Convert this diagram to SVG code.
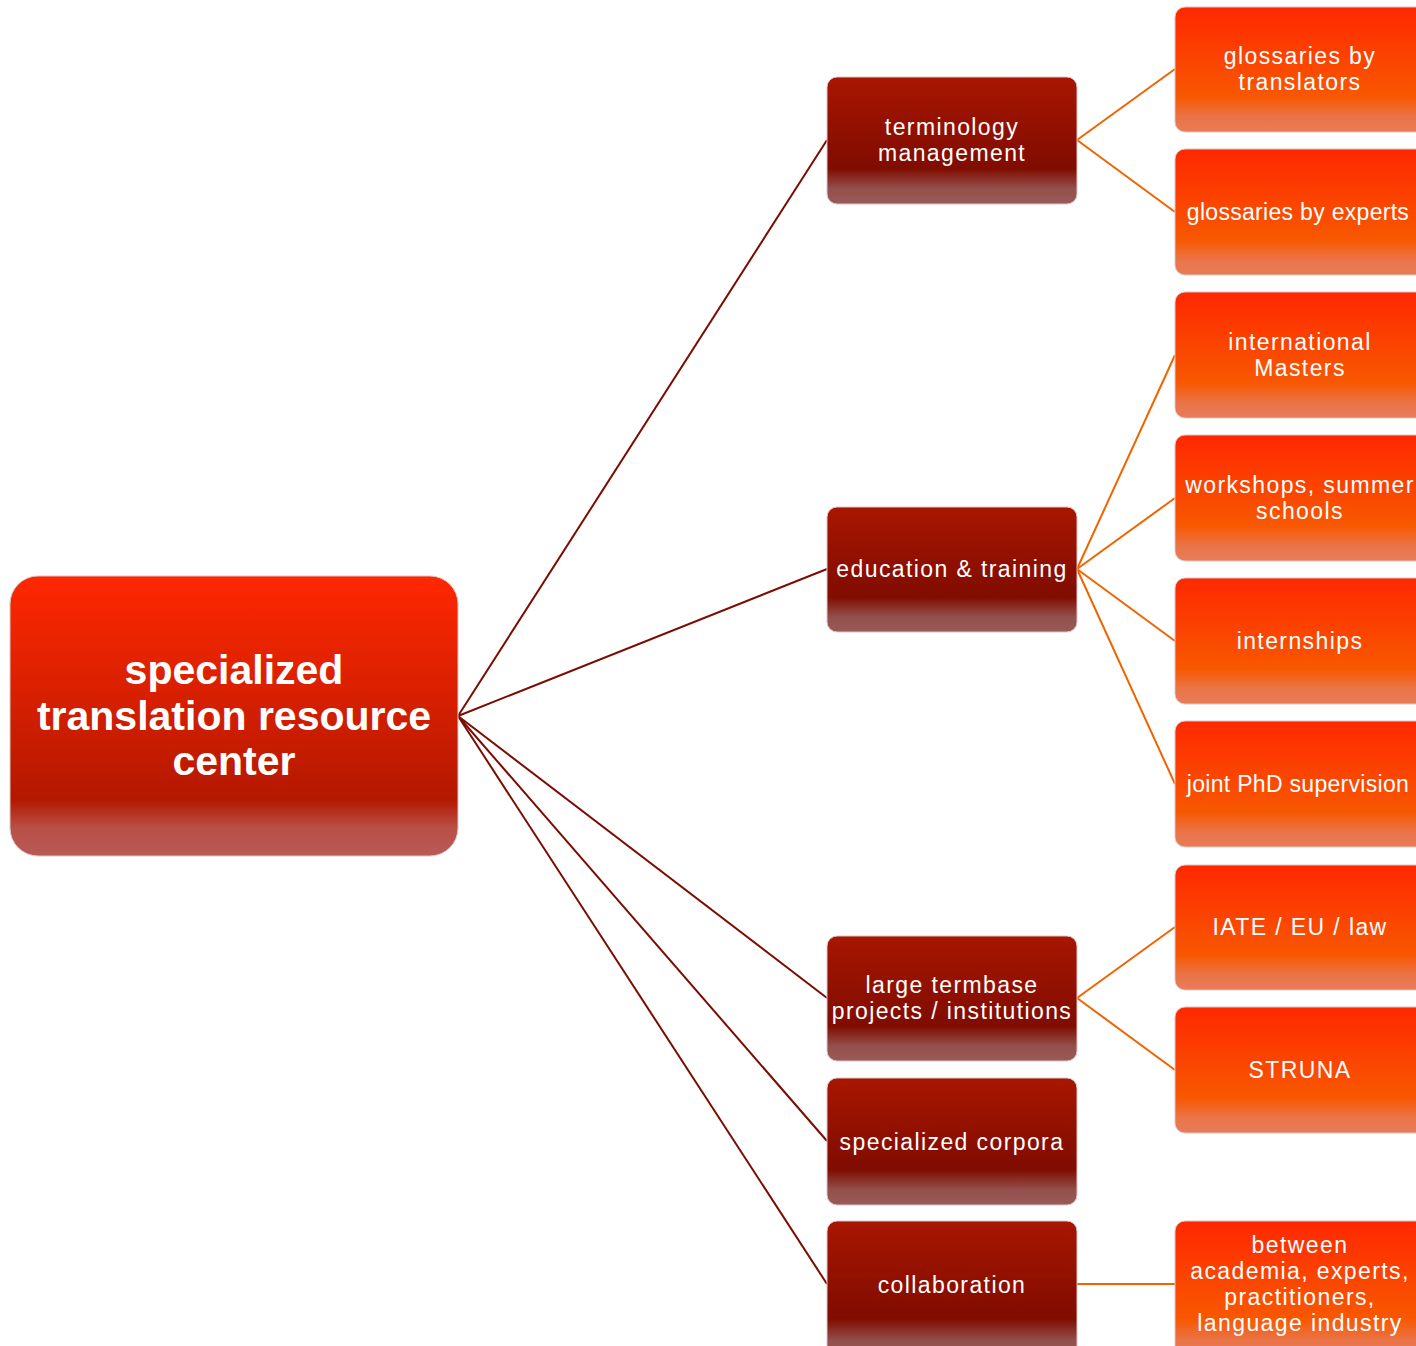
<svg xmlns="http://www.w3.org/2000/svg" width="1416" height="1346" viewBox="0 0 1416 1346">
<defs>
<linearGradient id="gRoot" x1="0" y1="0" x2="0" y2="1">
<stop offset="0" stop-color="#ff2800"/>
<stop offset="0.8" stop-color="#b41800"/>
<stop offset="0.9" stop-color="#b85048"/>
<stop offset="1" stop-color="#b85a55"/>
</linearGradient>
<linearGradient id="gL1" x1="0" y1="0" x2="0" y2="1">
<stop offset="0" stop-color="#a81600"/>
<stop offset="0.72" stop-color="#800c00"/>
<stop offset="0.88" stop-color="#93504c"/>
<stop offset="1" stop-color="#9a5a58"/>
</linearGradient>
<linearGradient id="gL2" x1="0" y1="0" x2="0" y2="1">
<stop offset="0" stop-color="#ff2800"/>
<stop offset="0.72" stop-color="#f85800"/>
<stop offset="0.88" stop-color="#ea7448"/>
<stop offset="1" stop-color="#e87c58"/>
</linearGradient>
</defs>
<style>
.root{fill:url(#gRoot);stroke:#d8c8c8;stroke-width:1}
.l1{fill:url(#gL1);stroke:#d8c8c8;stroke-width:1}
.l2{fill:url(#gL2);stroke:#d8c8c8;stroke-width:1}
text{font-family:"Liberation Sans",Arial,sans-serif;fill:#ffffff;text-anchor:middle}
.t1{font-size:23px;letter-spacing:1.4px}
.tn{font-size:23px;letter-spacing:0.3px}
.t0{font-size:41px;font-weight:bold}
.c1{stroke:#7a0c00;stroke-width:2;fill:none}
.c2{stroke:#f06400;stroke-width:2;fill:none}
</style>
<g id="connectors">
<line class="c1" x1="458" y1="716" x2="827" y2="140"/>
<line class="c1" x1="458" y1="716" x2="827" y2="569"/>
<line class="c1" x1="458" y1="716" x2="827" y2="998"/>
<line class="c1" x1="458" y1="716" x2="827" y2="1141"/>
<line class="c1" x1="458" y1="716" x2="827" y2="1284"/>
<line class="c2" x1="1077" y1="140" x2="1175" y2="69"/>
<line class="c2" x1="1077" y1="140" x2="1175" y2="212"/>
<line class="c2" x1="1077" y1="569" x2="1175" y2="355"/>
<line class="c2" x1="1077" y1="569" x2="1175" y2="498"/>
<line class="c2" x1="1077" y1="569" x2="1175" y2="641"/>
<line class="c2" x1="1077" y1="569" x2="1175" y2="784"/>
<line class="c2" x1="1077" y1="998" x2="1175" y2="927"/>
<line class="c2" x1="1077" y1="998" x2="1175" y2="1070"/>
<line class="c2" x1="1077" y1="1284" x2="1175" y2="1284"/>
</g>
<g id="root">
<rect class="root" x="10" y="576" width="448" height="280" rx="28"/>
<text class="t0" x="234" y="684">specialized</text>
<text class="t0" x="234" y="730">translation resource</text>
<text class="t0" x="234" y="775">center</text>
</g>
<g id="terminology">
<rect class="l1" x="827" y="77" width="250" height="127" rx="10"/>
<text class="t1" x="952" y="135">terminology</text>
<text class="t1" x="952" y="161">management</text>
</g>
<g id="education">
<rect class="l1" x="827" y="507" width="250" height="125" rx="10"/>
<text class="t1" x="952" y="577">education &amp; training</text>
</g>
<g id="termbase">
<rect class="l1" x="827" y="936" width="250" height="125" rx="10"/>
<text class="t1" x="952" y="993">large termbase</text>
<text class="t1" x="952" y="1019">projects / institutions</text>
</g>
<g id="corpora">
<rect class="l1" x="827" y="1078" width="250" height="127" rx="10"/>
<text class="t1" x="952" y="1150">specialized corpora</text>
</g>
<g id="collaboration">
<rect class="l1" x="827" y="1221" width="250" height="136" rx="10"/>
<text class="t1" x="952" y="1293">collaboration</text>
</g>
<g id="gl-translators">
<rect class="l2" x="1175" y="7" width="260" height="125" rx="10"/>
<text class="t1" x="1300" y="64">glossaries by</text>
<text class="t1" x="1300" y="90">translators</text>
</g>
<g id="gl-experts">
<rect class="l2" x="1175" y="149" width="260" height="126" rx="10"/>
<text class="tn" x="1298" y="220">glossaries by experts</text>
</g>
<g id="masters">
<rect class="l2" x="1175" y="292" width="260" height="126" rx="10"/>
<text class="t1" x="1300" y="350">international</text>
<text class="t1" x="1300" y="376">Masters</text>
</g>
<g id="workshops">
<rect class="l2" x="1175" y="435" width="260" height="126" rx="10"/>
<text class="t1" x="1300" y="493">workshops, summer</text>
<text class="t1" x="1300" y="519">schools</text>
</g>
<g id="internships">
<rect class="l2" x="1175" y="578" width="260" height="126" rx="10"/>
<text class="t1" x="1300" y="649">internships</text>
</g>
<g id="phd">
<rect class="l2" x="1175" y="721" width="260" height="126" rx="10"/>
<text class="tn" x="1298" y="792">joint PhD supervision</text>
</g>
<g id="iate">
<rect class="l2" x="1175" y="865" width="260" height="125" rx="10"/>
<text class="t1" x="1300" y="935">IATE / EU / law</text>
</g>
<g id="struna">
<rect class="l2" x="1175" y="1007" width="260" height="126" rx="10"/>
<text class="t1" x="1300" y="1078">STRUNA</text>
</g>
<g id="between">
<rect class="l2" x="1175" y="1221" width="260" height="136" rx="10"/>
<text class="t1" x="1300" y="1253">between</text>
<text class="t1" x="1300" y="1279">academia, experts,</text>
<text class="t1" x="1300" y="1305">practitioners,</text>
<text class="t1" x="1300" y="1331">language industry</text>
</g>
</svg>
